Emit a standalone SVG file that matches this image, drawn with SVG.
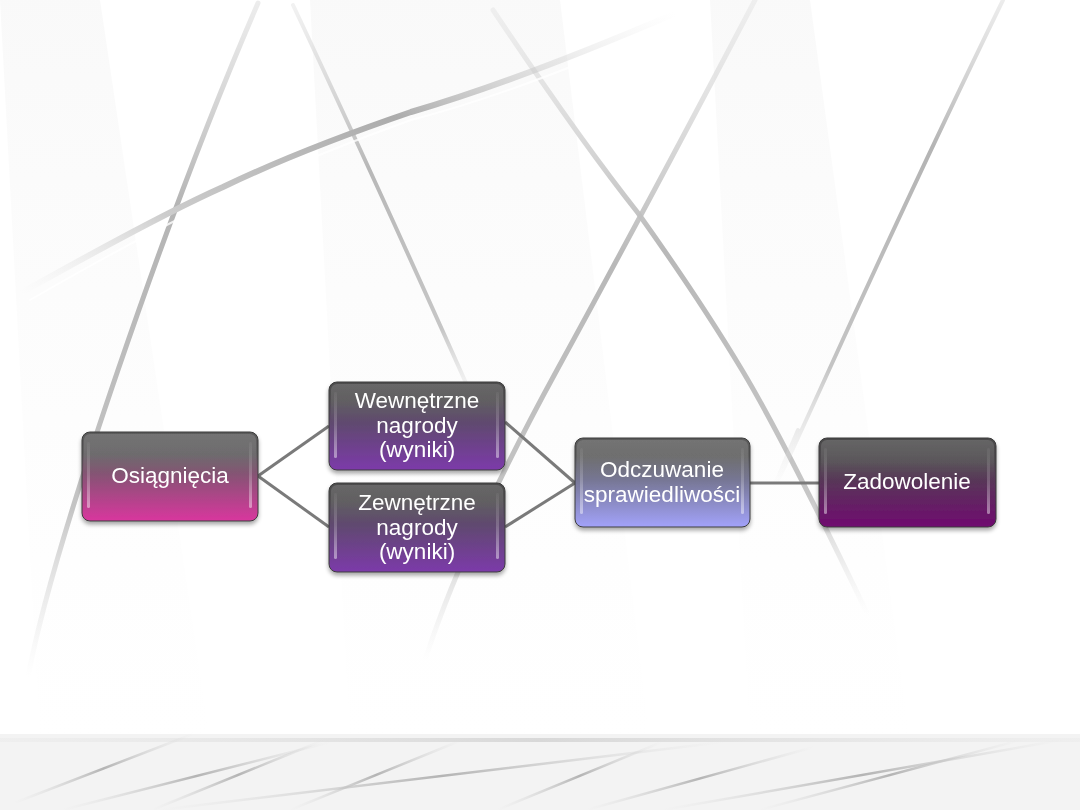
<svg xmlns="http://www.w3.org/2000/svg" width="1080" height="810" viewBox="0 0 1080 810">
<defs>
<style>
.lbl{font-family:"Liberation Sans",Arial,sans-serif;font-size:22.5px;fill:#ffffff;text-anchor:middle}
.conn{stroke:#7a7a7a;stroke-width:3;fill:none}
.bline{fill:none;stroke-linecap:round}
.edge{fill:url(#edgeHi)}
</style>
<linearGradient id="gOs" x1="0" y1="0" x2="0" y2="1"><stop offset="0" stop-color="#5a5a5a"/><stop offset="0.25" stop-color="#626062"/><stop offset="1" stop-color="#d9369e"/></linearGradient>
<linearGradient id="gWe" x1="0" y1="0" x2="0" y2="1"><stop offset="0" stop-color="#4c4c4c"/><stop offset="0.2" stop-color="#525052"/><stop offset="1" stop-color="#7c3aaa"/></linearGradient>
<linearGradient id="gOd" x1="0" y1="0" x2="0" y2="1"><stop offset="0" stop-color="#5a5a5a"/><stop offset="0.2" stop-color="#606060"/><stop offset="1" stop-color="#a2a2fa"/></linearGradient>
<linearGradient id="gZa" x1="0" y1="0" x2="0" y2="1"><stop offset="0" stop-color="#4a4a4a"/><stop offset="0.25" stop-color="#4e4a4e"/><stop offset="1" stop-color="#700a70"/></linearGradient>
<linearGradient id="edgeHi" x1="0" y1="0" x2="0" y2="1"><stop offset="0" stop-color="#ffffff" stop-opacity="0.05"/><stop offset="0.5" stop-color="#ffffff" stop-opacity="0.2"/><stop offset="1" stop-color="#ffffff" stop-opacity="0.45"/></linearGradient>
<linearGradient id="gloss" x1="0" y1="0" x2="0" y2="1"><stop offset="0" stop-color="#ffffff" stop-opacity="0.15"/><stop offset="1" stop-color="#ffffff" stop-opacity="0"/></linearGradient>
<filter id="sh" x="-10%" y="-10%" width="120%" height="130%"><feGaussianBlur in="SourceAlpha" stdDeviation="2"/><feOffset dx="0" dy="3" result="b"/><feComponentTransfer><feFuncA type="linear" slope="0.35"/></feComponentTransfer><feMerge><feMergeNode/><feMergeNode in="SourceGraphic"/></feMerge></filter>
<linearGradient id="fadeV" x1="0" y1="0" x2="0" y2="1"><stop offset="0" stop-color="#d0d0d0" stop-opacity="0.4"/><stop offset="0.3" stop-color="#b4b4b4"/><stop offset="0.75" stop-color="#c4c4c4"/><stop offset="1" stop-color="#e6e6e6" stop-opacity="0"/></linearGradient>
<linearGradient id="fadeV2" x1="0" y1="0" x2="0" y2="1"><stop offset="0" stop-color="#e4e4e4" stop-opacity="0.5"/><stop offset="0.4" stop-color="#b8b8b8"/><stop offset="0.8" stop-color="#c6c6c6"/><stop offset="1" stop-color="#e6e6e6" stop-opacity="0"/></linearGradient>
<linearGradient id="fadeD" x1="1" y1="0" x2="0" y2="1"><stop offset="0" stop-color="#e8e8e8" stop-opacity="0"/><stop offset="0.4" stop-color="#acacac"/><stop offset="0.75" stop-color="#cccccc"/><stop offset="1" stop-color="#ececec" stop-opacity="0"/></linearGradient>
<linearGradient id="fadeB" x1="0" y1="0" x2="1" y2="0"><stop offset="0" stop-color="#dcdcdc" stop-opacity="0"/><stop offset="0.5" stop-color="#b4b4b4"/><stop offset="1" stop-color="#dcdcdc" stop-opacity="0"/></linearGradient>
<linearGradient id="bandG" x1="0" y1="0" x2="0" y2="1"><stop offset="0" stop-color="#f2f2f2" stop-opacity="0.45"/><stop offset="0.5" stop-color="#f7f7f7" stop-opacity="0.3"/><stop offset="1" stop-color="#f9f9f9" stop-opacity="0"/></linearGradient>
<linearGradient id="hLine" x1="0" y1="0" x2="1" y2="0"><stop offset="0" stop-color="#e8e8e8" stop-opacity="0.4"/><stop offset="0.5" stop-color="#d8d8d8"/><stop offset="1" stop-color="#e8e8e8" stop-opacity="0.4"/></linearGradient>
</defs>
<rect width="1080" height="810" fill="#ffffff"/>
<g id="background">
<polygon points="0,0 100,0 210,740 40,740" fill="url(#bandG)"/>
<polygon points="310,0 560,0 650,740 350,740" fill="url(#bandG)"/>
<polygon points="710,0 810,0 910,740 750,740" fill="url(#bandG)"/>
<path class="bline" d="M258,3 Q190,160 118,370 T28,677" stroke="url(#fadeV)" stroke-width="5"/>
<path class="bline" d="M293,5 Q380,190 478,410" stroke="url(#fadeV2)" stroke-width="4"/>
<path class="bline" d="M493,10 Q580,140 638,213 Q700,300 742,370 T868,615" stroke="url(#fadeV2)" stroke-width="5"/>
<path class="bline" d="M755,0 Q650,200 557,370 T425,660" stroke="url(#fadeV2)" stroke-width="5"/>
<path class="bline" d="M1003,0 Q920,170 829,370 T798,430" stroke="url(#fadeV)" stroke-width="4"/>
<path class="bline" d="M676,13 Q520,80 411,112 Q300,150 223,187 Q160,215 21,293" stroke="url(#fadeD)" stroke-width="6"/>
<path class="bline" d="M670,25 Q520,92 411,120 Q300,160 230,195 Q160,225 30,300" stroke="#ffffff" stroke-width="2" opacity="0.8"/>
<rect x="0" y="734" width="1080" height="76" fill="#f3f3f3"/>
<rect x="0" y="738" width="1080" height="4" fill="url(#hLine)"/>
<g stroke="url(#fadeB)" stroke-width="2.5" fill="none" stroke-linecap="round">
<path d="M193,734 L14,803"/>
<path d="M331,742 L62,810"/>
<path d="M324,740 L152,810"/>
<path d="M462,740 L290,810"/>
<path d="M724,742 L159,810"/>
<path d="M662,742 L497,810"/>
<path d="M814,747 L586,810"/>
<path d="M1062,740 L662,810"/>
<path d="M1021,740 L759,810"/>
</g>
</g>
<g id="connectors">
<path class="conn" d="M258,476 L329,426"/>
<path class="conn" d="M258,476 L329,527"/>
<path class="conn" d="M505,422 L575,483"/>
<path class="conn" d="M505,527 L575,483"/>
<path class="conn" d="M750,483 L819,483"/>
</g>
<g id="n-osiagniecia" filter="url(#sh)">
<rect x="82" y="432" width="176" height="89" rx="8" fill="url(#gOs)" stroke="#3c3c3c" stroke-width="1"/>
<rect x="84" y="434" width="172" height="40" rx="6" fill="url(#gloss)"/>
<rect class="edge" x="87" y="442" width="3" height="66" rx="1.5"/>
<rect class="edge" x="249" y="442" width="3" height="66" rx="1.5"/>
<text class="lbl" x="170" y="483">Osiągnięcia</text>
</g>
<g id="n-wewnetrzne" filter="url(#sh)">
<rect x="329" y="382" width="176" height="88" rx="8" fill="url(#gWe)" stroke="#3c3c3c" stroke-width="1"/>
<rect x="331" y="384" width="172" height="40" rx="6" fill="url(#gloss)"/>
<rect class="edge" x="334" y="392" width="3" height="66" rx="1.5"/>
<rect class="edge" x="496" y="392" width="3" height="66" rx="1.5"/>
<text class="lbl" x="417" y="408">Wewnętrzne</text>
<text class="lbl" x="417" y="433">nagrody</text>
<text class="lbl" x="417" y="457">(wyniki)</text>
</g>
<g id="n-zewnetrzne" filter="url(#sh)">
<rect x="329" y="483" width="176" height="89" rx="8" fill="url(#gWe)" stroke="#3c3c3c" stroke-width="1"/>
<rect x="331" y="485" width="172" height="40" rx="6" fill="url(#gloss)"/>
<rect class="edge" x="334" y="493" width="3" height="66" rx="1.5"/>
<rect class="edge" x="496" y="493" width="3" height="66" rx="1.5"/>
<text class="lbl" x="417" y="510">Zewnętrzne</text>
<text class="lbl" x="417" y="535">nagrody</text>
<text class="lbl" x="417" y="559">(wyniki)</text>
</g>
<g id="n-odczuwanie" filter="url(#sh)">
<rect x="575" y="438" width="175" height="89" rx="8" fill="url(#gOd)" stroke="#3c3c3c" stroke-width="1"/>
<rect x="577" y="440" width="171" height="40" rx="6" fill="url(#gloss)"/>
<rect class="edge" x="580" y="448" width="3" height="66" rx="1.5"/>
<rect class="edge" x="741" y="448" width="3" height="66" rx="1.5"/>
<text class="lbl" x="662" y="477">Odczuwanie</text>
<text class="lbl" x="662" y="502">sprawiedliwości</text>
</g>
<g id="n-zadowolenie" filter="url(#sh)">
<rect x="819" y="438" width="177" height="89" rx="8" fill="url(#gZa)" stroke="#3c3c3c" stroke-width="1"/>
<rect x="821" y="440" width="173" height="40" rx="6" fill="url(#gloss)"/>
<rect class="edge" x="824" y="448" width="3" height="66" rx="1.5"/>
<rect class="edge" x="987" y="448" width="3" height="66" rx="1.5"/>
<text class="lbl" x="907" y="489">Zadowolenie</text>
</g>
</svg>
